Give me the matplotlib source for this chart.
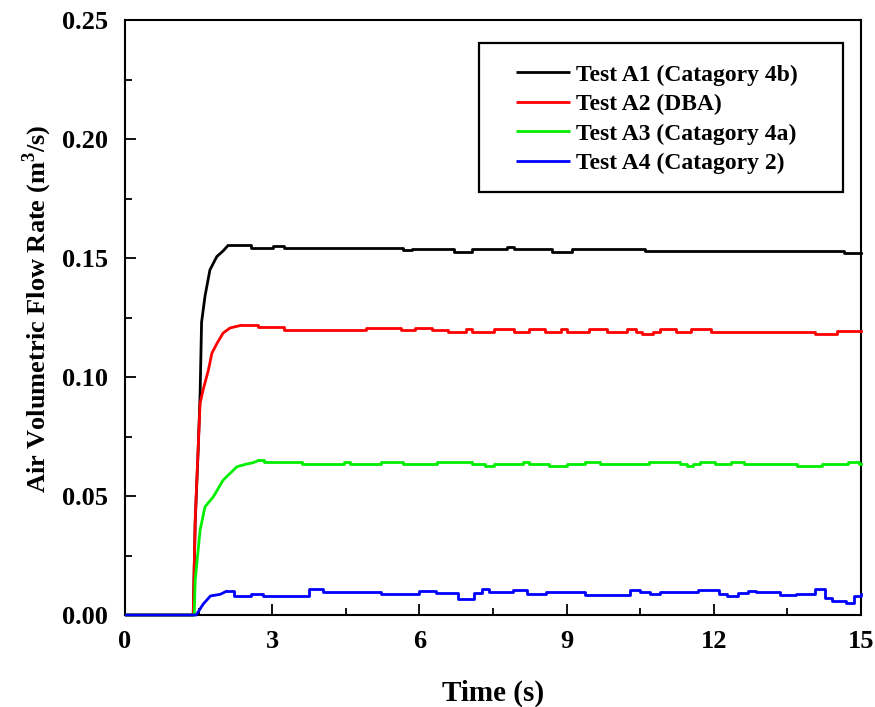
import matplotlib
matplotlib.use("Agg")
import matplotlib.pyplot as plt
from matplotlib.ticker import MultipleLocator
from matplotlib.patches import Rectangle

plt.rcParams['font.family'] = ['Liberation Serif', 'DejaVu Serif']
plt.rcParams['font.weight'] = 'bold'
plt.rcParams['mathtext.fontset'] = 'custom'
plt.rcParams['mathtext.rm'] = 'Liberation Serif:bold'

# Test A1 (Catagory 4b)
t_a1 = [0.0, 1.39, 1.43, 1.49, 1.53, 1.56, 1.63, 1.73, 1.87, 2.00, 2.11, 2.56, 3.01,
        3.24, 5.67, 5.85, 6.71, 7.07, 7.79, 7.93, 8.70, 9.10, 10.59, 14.65, 15.0]
q_a1 = [0.0, 0.0, 0.039, 0.069, 0.093, 0.123, 0.134, 0.145, 0.1506, 0.153, 0.1555, 0.1541,
        0.1551, 0.1541, 0.1534, 0.1538, 0.1527, 0.1537, 0.1545, 0.1537, 0.1527, 0.1538,
        0.1530, 0.1520, 0.1520]

# Test A2 (DBA)
t_a2 = [0.0, 1.39, 1.43, 1.49, 1.53, 1.59, 1.70, 1.77, 1.87, 2.00, 2.14, 2.38, 2.70,
        3.24, 4.91, 5.63, 5.90, 6.26, 6.58, 6.94, 7.07, 7.52, 7.93, 8.24, 8.56, 8.88,
        9.01, 9.46, 9.82, 10.23, 10.41, 10.54, 10.77, 10.90, 11.22, 11.54, 11.94, 14.06,
        14.51, 15.0]
q_a2 = [0.0, 0.0, 0.040, 0.070, 0.089, 0.0945, 0.103, 0.110, 0.114, 0.1185, 0.1206,
        0.1218, 0.1209, 0.1197, 0.1207, 0.1197, 0.1207, 0.1197, 0.1190, 0.1200, 0.1190,
        0.1200, 0.1190, 0.1200, 0.1190, 0.1200, 0.1190, 0.1200, 0.1190, 0.1200, 0.1190,
        0.1181, 0.1190, 0.1200, 0.1190, 0.1200, 0.1190, 0.1181, 0.1193, 0.1193]

# Test A3 (Catagory 4a)
t_a3 = [0.0, 1.41, 1.43, 1.53, 1.63, 1.80, 2.00, 2.28, 2.47, 2.61, 2.74, 2.83, 3.60,
        4.46, 4.59, 5.22, 5.67, 6.35, 7.07, 7.34, 7.52, 8.11, 8.24, 8.65, 9.01, 9.37,
        9.69, 10.68, 11.31, 11.45, 11.58, 11.72, 12.03, 12.35, 12.62, 13.70, 14.20,
        14.74, 14.96, 15.0]
q_a3 = [0.0, 0.0, 0.0147, 0.0357, 0.0455, 0.0497, 0.0567, 0.0623, 0.0634, 0.0640,
        0.0651, 0.0641, 0.0633, 0.0641, 0.0633, 0.0641, 0.0633, 0.0641, 0.0633, 0.0626,
        0.0633, 0.0641, 0.0633, 0.0626, 0.0633, 0.0641, 0.0633, 0.0641, 0.0633, 0.0626,
        0.0633, 0.0641, 0.0633, 0.0641, 0.0633, 0.0626, 0.0633, 0.0641, 0.0633, 0.0633]

# Test A4 (Catagory 2)
t_a4 = [0.0, 1.45, 1.59, 1.74, 1.94, 2.08, 2.23, 2.57, 2.82, 3.55, 3.75, 3.89, 4.04,
        5.22, 5.85, 6.00, 6.34, 6.63, 6.78, 6.98, 7.12, 7.27, 7.42, 7.90, 8.05, 8.20,
        8.59, 9.37, 10.10, 10.30, 10.50, 10.70, 10.90, 11.67, 11.97, 12.11, 12.26,
        12.50, 12.70, 12.85, 13.34, 13.68, 13.92, 14.07, 14.26, 14.41, 14.70, 14.85,
        15.0]
q_a4 = [0.0, 0.0, 0.0045, 0.0080, 0.0087, 0.0101, 0.0080, 0.0090, 0.0080, 0.0080,
        0.0108, 0.0110, 0.0097, 0.0087, 0.0087, 0.0101, 0.0094, 0.0094, 0.0069, 0.0069,
        0.0094, 0.0110, 0.0097, 0.0104, 0.0104, 0.0090, 0.0097, 0.0083, 0.0083, 0.0104,
        0.0097, 0.0087, 0.0097, 0.0104, 0.0104, 0.0090, 0.0080, 0.0094, 0.0101, 0.0097,
        0.0083, 0.0090, 0.0090, 0.0110, 0.0073, 0.0059, 0.0052, 0.0080, 0.0087]

# (time, flow, colour, label, index where the start-up ramp ends)
series = [
    (t_a1, q_a1, '#000000', 'Test A1 (Catagory 4b)', 10),
    (t_a2, q_a2, '#ff0000', 'Test A2 (DBA)', 11),
    (t_a3, q_a3, '#00ee00', 'Test A3 (Catagory 4a)', 10),
    (t_a4, q_a4, '#0000ff', 'Test A4 (Catagory 2)', 5),
]

fig = plt.figure(figsize=(8.75, 7.07), dpi=100)
ax = fig.add_axes([0.1429, 0.1301, 0.8411, 0.8416])

for t, q, c, lab, k in series:
    # ramp drawn as straight segments, steady logging as held samples
    ax.plot(t[:k + 1], q[:k + 1], color=c, lw=2.0, label=lab,
            clip_on=False, zorder=3, solid_capstyle='butt')
    ax.plot(t[k:], q[k:], color=c, lw=2.0, drawstyle='steps-post',
            clip_on=False, zorder=3)

ax.set_xlim(0, 15)
ax.set_ylim(0, 0.25)
ax.xaxis.set_major_locator(MultipleLocator(3))
ax.xaxis.set_minor_locator(MultipleLocator(1.5))
ax.yaxis.set_major_locator(MultipleLocator(0.05))
ax.yaxis.set_minor_locator(MultipleLocator(0.025))
ax.yaxis.set_major_formatter(plt.FormatStrFormatter('%.2f'))

ax.tick_params(which='both', direction='in', top=False, right=False,
               labelsize=19, width=1.3)
ax.tick_params(which='major', length=8)
ax.tick_params(axis='x', which='major', pad=11)
ax.tick_params(axis='y', which='major', pad=12)
ax.tick_params(which='minor', length=5)
for lbl in ax.get_xticklabels() + ax.get_yticklabels():
    lbl.set_fontweight('bold')
for sp in ax.spines.values():
    sp.set_linewidth(1.5)

ax.set_xlabel('Time (s)', fontsize=21, fontweight='bold', labelpad=19)
ax.set_ylabel(r'Air Volumetric Flow Rate (m$^{3}$/s)', fontsize=19,
              fontweight='bold')
ax.yaxis.set_label_coords(-0.096, 0.514)

# legend frame and entries
ax.add_patch(Rectangle((0.481, 0.711), 0.4945, 0.25, transform=ax.transAxes,
                       fill=True, facecolor='white', edgecolor='black',
                       lw=1.6, zorder=4))
leg = ax.legend(loc='upper left', bbox_to_anchor=(0.531, 0.926),
                prop={'family': 'Liberation Serif', 'weight': 'bold', 'size': 17},
                frameon=False, handlelength=2.3, handletextpad=0.25,
                labelspacing=0.34, borderpad=0.0, borderaxespad=0.0)
leg.set_zorder(5)

fig.savefig('out.png', dpi=100)
